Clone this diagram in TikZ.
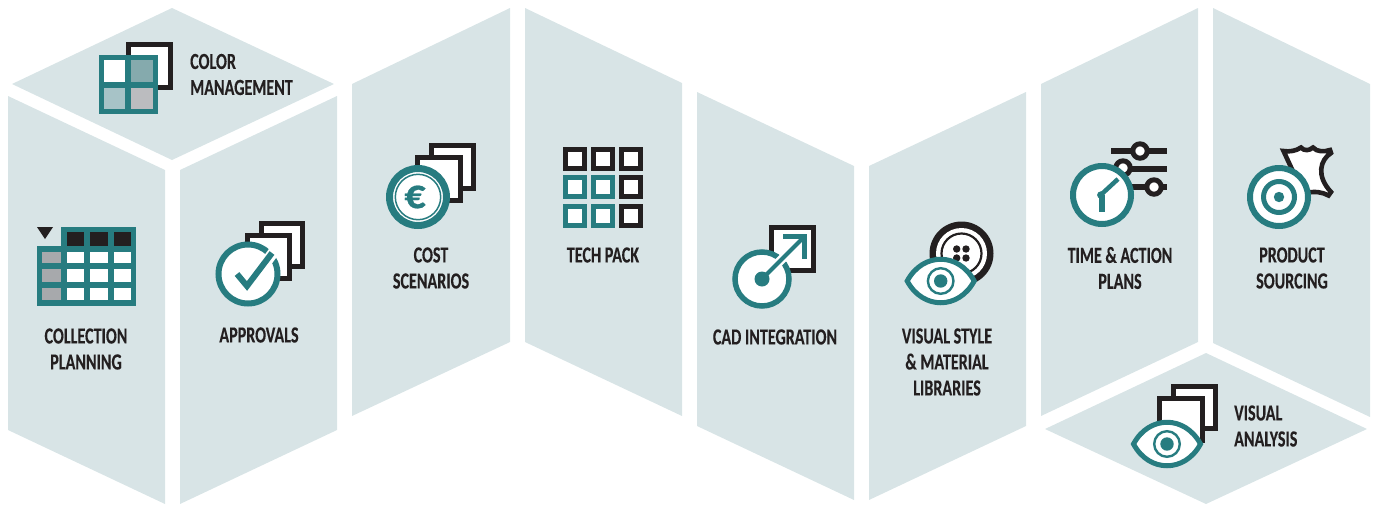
\documentclass[tikz,border=0pt]{standalone}
\usepackage{fontspec}
\setmainfont{Carlito}
\newfontfamily\labelfamily[FakeStretch=0.70,FakeBold=0.25]{Carlito Bold}
\newfontfamily\euroglyph[FakeBold=0.4]{Carlito Bold}
\definecolor{panel}{HTML}{D8E4E6}
\definecolor{teal}{HTML}{277C80}
\definecolor{ink}{HTML}{231F20}
\definecolor{cellA}{HTML}{85AAAD}
\definecolor{cellB}{HTML}{A7C3C7}
\definecolor{cellC}{HTML}{BBBCBF}
\definecolor{cellD}{HTML}{A7A9AC}
\tikzset{
  panelshape/.style={fill=panel,draw=none},
  sheet/.style={draw=ink,line width=5pt,fill=white,line join=miter},
  tealsheet/.style={draw=teal,line width=5.5pt,fill=white},
  inksq/.style={draw=ink,line width=5.5pt,fill=white},
  ring/.style={draw=teal,line width=6pt,fill=white},
  label/.style={text=ink,inner sep=0pt,align=center,font=\labelfamily\fontsize{23}{26}\selectfont},
  labelleft/.style={label,align=left,anchor=west},
  pics/eye/.style={code={
    \path[draw=teal,fill=white,line width=5pt,line join=miter,miter limit=10]
      (-33.5,0) .. controls (-18,-29) and (18,-29) .. (33.5,0)
      .. controls (18,29) and (-18,29) .. (-33.5,0) -- cycle;
    \draw[teal,line width=2.4pt] (0,0) circle (12.8);
    \fill[teal] (0,0) circle (6.7);
  }}
}
\begin{document}
\begin{tikzpicture}[x=1pt,y=-1pt]
\useasboundingbox (0,0) rectangle (1376,504);
% panels
\fill[panelshape] (172,8) -- (334,84) -- (172,160) -- (12,84) -- cycle;
\fill[panelshape] (8,96) -- (165,170) -- (165,504) -- (8,430) -- cycle;
\fill[panelshape] (180,170) -- (337,96) -- (337,430) -- (180,504) -- cycle;
\fill[panelshape] (352,84) -- (510,8) -- (510,342) -- (352,416) -- cycle;
\fill[panelshape] (525,8) -- (682,83) -- (682,416) -- (525,342) -- cycle;
\fill[panelshape] (697,92) -- (854,166) -- (854,500) -- (697,426) -- cycle;
\fill[panelshape] (869,166) -- (1026,92) -- (1026,426) -- (869,500) -- cycle;
\fill[panelshape] (1041,84) -- (1198,8) -- (1198,342) -- (1041,416) -- cycle;
\fill[panelshape] (1213,8) -- (1370,84) -- (1370,417) -- (1213,343) -- cycle;
\fill[panelshape] (1206,353) -- (1367,429) -- (1206,504) -- (1045,429) -- cycle;

% colour management icon
\draw[sheet] (128.5,44.5) rectangle (170.5,87.5);
\fill[teal] (99,55) rectangle (158,114);
\fill[white] (104,60) rectangle (125,82);
\fill[cellA] (131,60) rectangle (153,82);
\fill[cellB] (104,88) rectangle (125,109);
\fill[cellC] (131,88) rectangle (153,109);

% collection planning icon
\fill[ink] (37,227) -- (53,227) -- (45,239) -- cycle;
\fill[teal] (61,227) rectangle (136,246);
\fill[teal] (37,246) rectangle (136,306);
\foreach \xa/\xb in {67/84,90/108,114/131} {
  \fill[ink] (\xa,232) rectangle (\xb,246);
  \foreach \ya/\yb in {252/263,269/282,288/300} {
    \fill[white] (\xa,\ya) rectangle (\xb,\yb);
  }
}
\foreach \ya/\yb in {252/263,269/282,288/300} {
  \fill[cellD] (42,\ya) rectangle (61,\yb);
}

% approvals icon
\draw[sheet] (261.5,223.5) rectangle (302.5,266.5);
\draw[sheet] (247.5,235.5) rectangle (289.5,278.5);
\draw[ring] (248,274) circle (29.5);
\draw[white,line width=11pt] (256,276) -- (275,250);
\draw[teal,line width=6pt,line join=miter] (237,274) -- (247,286) -- (272,253);

% cost scenarios icon
\draw[sheet] (431.5,145.5) rectangle (473.5,188.5);
\draw[sheet] (417.5,157.5) rectangle (460.5,200.5);
\draw[draw=teal,line width=7pt,fill=white] (418,197) circle (28.5);
\draw[teal,line width=1.5pt] (418,197) circle (22.7);
\node[text=teal,inner sep=0pt,font=\euroglyph\fontsize{42}{42}\selectfont] (euro) at (415,197) {€};

% tech pack icon
\foreach \x in {565.7,593.7,621.7} {
  \foreach \y in {149.7,177.7,206.7} {
    \draw[inksq] (\x,\y) rectangle ++(18.6,18.6);
  }
}
\foreach \x in {565.7,593.7} {
  \foreach \y in {177.7,206.7} {
    \draw[tealsheet] (\x,\y) rectangle ++(18.6,18.6);
  }
}

% CAD integration icon
\draw[sheet] (771.5,227.5) rectangle (813.5,270.5);
\draw[draw=teal,line width=5.5pt,fill=white] (762,279) circle (27);
\draw[white,line width=9pt] (775,266) -- (793,248);
\draw[teal,line width=4pt] (762,279) -- (805,236);
\fill[teal] (762,279) circle (7.5);
\draw[teal,line width=5pt,line join=miter] (783,236.5) -- (804.5,236.5) -- (804.5,259);

% visual style icon
\fill[ink] (961.5,253.5) circle (32);
\fill[white] (961.5,253.5) circle (25.5);
\draw[ink,line width=2.2pt] (961.5,253.5) circle (20);
\foreach \x in {956.7,966} {
  \foreach \y in {249,258} {
    \fill[ink] (\x,\y) circle (3.7);
  }
}
\pic at (940.7,281) {eye};

% time and action plans icon
\draw[ink,line width=6pt] (1111,151) -- (1167,151);
\draw[ink,line width=6pt] (1123,169) -- (1167,169);
\draw[ink,line width=6pt] (1130,187) -- (1167,187);
\draw[ink,line width=5pt,fill=white] (1140,151) circle (7.2);
\draw[ink,line width=5pt,fill=white] (1123,168) circle (7.2);
\draw[ink,line width=5pt,fill=white] (1154,187) circle (7.2);
\draw[ring] (1102,195) circle (29);
\draw[teal,line width=4.5pt] (1100.7,195) -- (1118,179);
\draw[teal,line width=6pt] (1102,195) -- (1102,212);
\fill[teal] (1100.7,195) circle (3.6);

% product sourcing icon
\draw[ink,line width=4.6pt,fill=white,line join=miter]
  (1283.5,151)
  .. controls (1289,152) and (1296,151) .. (1301,147.5)
  .. controls (1304,151) and (1309,151) .. (1313,147.5)
  .. controls (1317,152) and (1324,152) .. (1330,150)
  -- (1331,153)
  .. controls (1320,160) and (1316,176) .. (1331,192)
  -- (1328.5,195.5)
  .. controls (1322,192) and (1315,191) .. (1306,193)
  -- (1296,178) -- cycle;
\draw[ring] (1279,197) circle (29);
\draw[teal,line width=5pt] (1279,197) circle (15.5);
\fill[teal] (1279,197) circle (5.2);

% visual analysis icon
\draw[sheet] (1173.5,386.5) rectangle (1215.5,428.5);
\draw[sheet] (1159.5,398.5) rectangle (1202.5,440.5);
\pic at (1167,444) {eye};

% labels
\node[labelleft] (colormgmt) at (190,74.5) {COLOR\\MANAGEMENT};
\node[label] (collection) at (86,349) {COLLECTION\\PLANNING};
\node[label] (approvals) at (259,335) {APPROVALS};
\node[label] (cost) at (431,268) {COST\\SCENARIOS};
\node[label] (techpack) at (603,255) {TECH PACK};
\node[label] (cad) at (775,337) {CAD INTEGRATION};
\node[label] (visualstyle) at (947,362) {VISUAL STYLE\\\& MATERIAL\\LIBRARIES};
\node[label] (timeaction) at (1120,268) {TIME \& ACTION\\PLANS};
\node[label] (sourcing) at (1292,268) {PRODUCT\\SOURCING};
\node[labelleft] (analysis) at (1234,426) {VISUAL\\ANALYSIS};
\end{tikzpicture}
\end{document}
